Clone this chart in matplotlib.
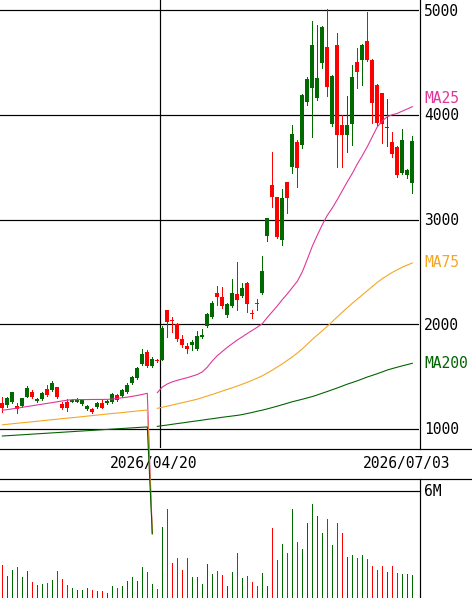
import matplotlib
matplotlib.use("Agg")
import matplotlib.pyplot as plt
from matplotlib.lines import Line2D
from matplotlib.transforms import offset_copy
import numpy as np

plt.rcParams['font.family'] = ['DejaVu Sans Mono', 'DejaVu Sans']

# ---------------- data ----------------
opens = [1245, 1229, 1255, 1220, 1220, 1308, 1356, 1267, 1283, 1379,
         1372, 1398, 1236, 1255, 1258, 1261, 1239, 1188, 1188, 1213,
         1251, 1245, 1261, 1325, 1315, 1356, 1442, 1484, 1620, 1738,
         1601, 1655, 1659, 2136, 2045, 2002, 1856, 1792, 1802, 1761,
         1881, 1983, 2072, 2296, 2257, 2088, 2174, 2289, 2270, 2397,
         2108, 2204, 2296, 2842, 3329, 3218, 2804, 3362, 3498, 3743,
         3711, 4125, 4253, 4157, 4491, 4650, 3912, 4666, 3902, 3807,
         3912, 4507, 4523, 4707, 4523, 4284, 4205, 3872, 3743, 3695,
         3441, 3425, 3346]
highs = [1308, 1308, 1356, 1251, 1300, 1411, 1372, 1299, 1356, 1420,
         1461, 1405, 1261, 1284, 1283, 1299, 1290, 1225, 1205, 1261,
         1284, 1275, 1340, 1335, 1380, 1437, 1510, 1590, 1761, 1755,
         1684, 1665, 1983, 2136, 2072, 2010, 1897, 1818, 1850, 1935,
         1950, 2110, 2220, 2365, 2359, 2200, 2429, 2597, 2390, 2406,
         2136, 2238, 2650, 3011, 3647, 3218, 3288, 3362, 3902, 3760,
         4200, 4360, 4898, 4857, 4850, 5007, 4380, 4777, 3998, 4176,
         4475, 4634, 4680, 4983, 4530, 4290, 4210, 4151, 3839, 3700,
         3861, 3480, 3797]
lows = [1165, 1213, 1245, 1150, 1213, 1303, 1299, 1255, 1277, 1315,
        1365, 1293, 1188, 1175, 1255, 1255, 1232, 1182, 1150, 1205,
        1198, 1240, 1251, 1270, 1308, 1347, 1432, 1474, 1611, 1595,
        1595, 1640, 1655, 1875, 1929, 1842, 1786, 1728, 1754, 1755,
        1870, 1970, 2055, 2184, 2152, 2070, 2165, 2136, 2260, 2120,
        2057, 2136, 2285, 2798, 3122, 2820, 2757, 3059, 3441, 3313,
        3680, 4090, 3790, 4140, 4450, 4176, 3890, 3504, 3504, 3647,
        3711, 4253, 4284, 4510, 3919, 3900, 3729, 3700, 3600, 3410,
        3430, 3400, 3250]
closes = [1203, 1293, 1350, 1188, 1293, 1389, 1308, 1283, 1347, 1325,
          1442, 1303, 1198, 1198, 1277, 1283, 1283, 1220, 1159, 1251,
          1203, 1267, 1330, 1277, 1372, 1420, 1494, 1580, 1716, 1601,
          1665, 1650, 1967, 2024, 2031, 1856, 1802, 1761, 1833, 1888,
          1897, 2098, 2200, 2257, 2174, 2193, 2296, 2232, 2343, 2193,
          2100, 2196, 2511, 3011, 3218, 2836, 3202, 3202, 3813, 3489,
          4189, 4338, 4666, 4348, 4841, 4268, 4370, 3807, 3807, 3902,
          4357, 4411, 4666, 4523, 4116, 3919, 3912, 3882, 3625, 3425,
          3759, 3473, 3753]
volumes_m = [1.83, 1.22, 1.56, 1.74, 1.15, 1.50, 0.89, 0.70, 0.78, 0.85,
             1.00, 1.50, 1.04, 0.72, 0.54, 0.44, 0.44, 0.54, 0.44, 0.39,
             0.39, 0.26, 0.67, 0.54, 0.67, 0.96, 1.15, 0.94, 1.74, 1.44,
             0.78, 0.48, 3.93, 4.93, 1.96, 2.20, 1.56, 2.20, 1.15, 1.15,
             0.78, 1.89, 1.33, 1.50, 1.28, 0.67, 1.46, 2.52, 1.13, 1.22,
             0.91, 0.67, 1.37, 0.67, 3.91, 2.11, 3.00, 2.52, 4.94, 3.11,
             2.72, 4.18, 5.22, 4.56, 3.59, 4.39, 2.94, 4.18, 3.59, 2.26,
             2.39, 2.20, 2.39, 2.17, 1.78, 1.56, 1.78, 1.46, 1.78, 1.41,
             1.33, 1.33, 1.28]
ma25 = [1180, 1185, 1192, 1200, 1207, 1215, 1222, 1230, 1237, 1245,
        1252, 1260, 1268, 1275, 1280, 1281, 1281, 1281, 1282, 1282,
        1282, 1283, 1286, 1292, 1298, 1304, 1312, 1320, 1330, 1341,
        0, 1347, 1400, 1430, 1450, 1465, 1478, 1490, 1505, 1520,
        1545, 1590, 1650, 1700, 1740, 1780, 1815, 1850, 1880, 1912,
        1942, 1972, 2005, 2065, 2120, 2175, 2235, 2290, 2350, 2410,
        2500, 2620, 2745, 2850, 2950, 3040, 3110, 3190, 3275, 3360,
        3440, 3530, 3610, 3695, 3790, 3885, 3940, 3982, 4000, 4013,
        4035, 4055, 4077]
ma75 = [1040, 1045, 1050, 1055, 1060, 1064, 1069, 1074, 1079, 1084,
        1089, 1094, 1099, 1104, 1108, 1113, 1118, 1123, 1128, 1133,
        1138, 1143, 1148, 1152, 1157, 1162, 1167, 1172, 1177, 1182,
        0, 1197, 1208, 1218, 1229, 1240, 1251, 1262, 1273, 1285,
        1300, 1315, 1330, 1346, 1362, 1378, 1394, 1410, 1428, 1446,
        1466, 1486, 1508, 1535, 1562, 1592, 1622, 1655, 1688, 1725,
        1765, 1810, 1855, 1897, 1938, 1980, 2025, 2070, 2115, 2158,
        2200, 2240, 2280, 2320, 2360, 2400, 2435, 2465, 2495, 2520,
        2545, 2565, 2585]
ma200 = [933, 936, 939, 942, 945, 948, 951, 954, 957, 960,
         963, 966, 969, 972, 975, 978, 981, 984, 987, 990,
         993, 996, 999, 1002, 1005, 1008, 1011, 1014, 1017, 1020,
         0, 1025, 1032, 1038, 1045, 1052, 1058, 1065, 1072, 1078,
         1085, 1092, 1098, 1105, 1112, 1118, 1124, 1130, 1138, 1148,
         1158, 1170, 1180, 1192, 1205, 1218, 1232, 1246, 1260, 1272,
         1284, 1297, 1310, 1325, 1342, 1358, 1375, 1392, 1410, 1428,
         1444, 1460, 1478, 1496, 1512, 1528, 1545, 1563, 1577, 1590,
         1603, 1615, 1627]
gap_index = 30
price_ticks = [1000, 2000, 3000, 4000, 5000]
date_labels = ["2026/04/20", "2026/07/03"]
date_positions = [31.5, 82]
volume_tick_label = "6M"
volume_tick_value = 6.0

# ---------------- style ----------------
UP = '#006a00'
DOWN = '#ff0000'
C_MA25 = '#e0369a'
C_MA75 = '#f5a623'
C_MA200 = '#006400'
PX = 0.72  # 1 pixel in points at 100 dpi

W, H = 472, 598
fig = plt.figure(figsize=(W / 100, H / 100), dpi=100)
fig.patch.set_facecolor('white')


def rect(l, t, r, b):
    return [l / W, 1 - b / H, (r - l) / W, (b - t) / H]


ax = fig.add_axes(rect(0, 0, 419, 448))
axv = fig.add_axes(rect(0, 490, 419, 598))
for a in (ax, axv):
    for s in a.spines.values():
        s.set_visible(False)
    a.patch.set_visible(False)
ax.set_zorder(3)

n = len(opens)
idx = np.arange(n)
o = np.array(opens, float)
h = np.array(highs, float)
l = np.array(lows, float)
c = np.array(closes, float)
up = c > o
cols = [UP if u else DOWN for u in up]

ax.set_xlim(-0.46, 83.34)
ax.set_ylim(818.6, 5095.5)
axv.set_xlim(-0.46, 83.34)
axv.set_ylim(0, 6.0)
ax.set_xticks([])
ax.set_yticks([])
axv.set_xticks([])
axv.set_yticks([])

# grid
for p in price_ticks:
    ax.axhline(p, color='black', lw=PX * 1.2, zorder=1)
ax.axvline(date_positions[0], color='black', lw=PX * 1.2, zorder=1)

# candles
ax.vlines(idx, l, h, colors=cols, lw=PX, zorder=4, antialiased=False)
body_bottom = np.minimum(o, c)
body_h = np.maximum(np.abs(c - o), 10)
ax.bar(idx, body_h, bottom=body_bottom, width=0.8, color=cols, linewidth=0,
       zorder=5, antialiased=False)

# moving averages
for vals, col in ((ma25, C_MA25), (ma75, C_MA75), (ma200, C_MA200)):
    v = np.array(vals, float)
    ax.plot(idx[:gap_index + 1], v[:gap_index + 1], color=col, lw=PX * 1.1,
            clip_on=False, zorder=6)
    ax.plot(idx[gap_index + 1:], v[gap_index + 1:], color=col, lw=PX * 1.1,
            clip_on=False, zorder=6)

fs = 10.5
yt = ax.get_yaxis_transform()
lx = 1 + 5 / 419

# price labels on the right
for p in price_ticks:
    ax.text(lx, p, str(p), fontsize=fs, va='center', color='black',
            transform=offset_copy(yt, fig=fig, y=-1, units='dots'))

# MA labels
ax.text(lx, ma25[-1], 'MA25', color=C_MA25, fontsize=fs, va='center',
        transform=offset_copy(yt, fig=fig, y=8, units='dots'))
ax.text(lx, ma75[-1], 'MA75', color=C_MA75, fontsize=fs, va='center', transform=yt)
ax.text(lx, ma200[-1], 'MA200', color=C_MA200, fontsize=fs, va='center', transform=yt)

# date labels
bt = ax.get_xaxis_transform()
for pos, lab in zip(date_positions, date_labels):
    ax.text(pos - 1.2, (448 - 463.5) / 448, lab, fontsize=fs, ha='center', va='center',
            transform=bt, clip_on=False)

# volume
axv.vlines(idx, 0, volumes_m, colors=cols, lw=PX, antialiased=False)
axv.text(lx, volume_tick_value, volume_tick_label, fontsize=fs, va='center',
         transform=offset_copy(axv.get_yaxis_transform(), fig=fig, y=-1, units='dots'))

# frame lines (figure pixel coords)
def fline(xs, ys):
    fig.add_artist(Line2D([x / W for x in xs], [1 - y / H for y in ys],
                          color='black', lw=PX * 1.2, transform=fig.transFigure))

fline([0, 472], [448.5, 448.5])
fline([0, 472], [478.5, 478.5])
fline([0, 419.5], [490.5, 490.5])
fline([419.5, 419.5], [0, 448.5])
fline([419.5, 419.5], [478.5, 598])

fig.savefig('out.png', dpi=100)
